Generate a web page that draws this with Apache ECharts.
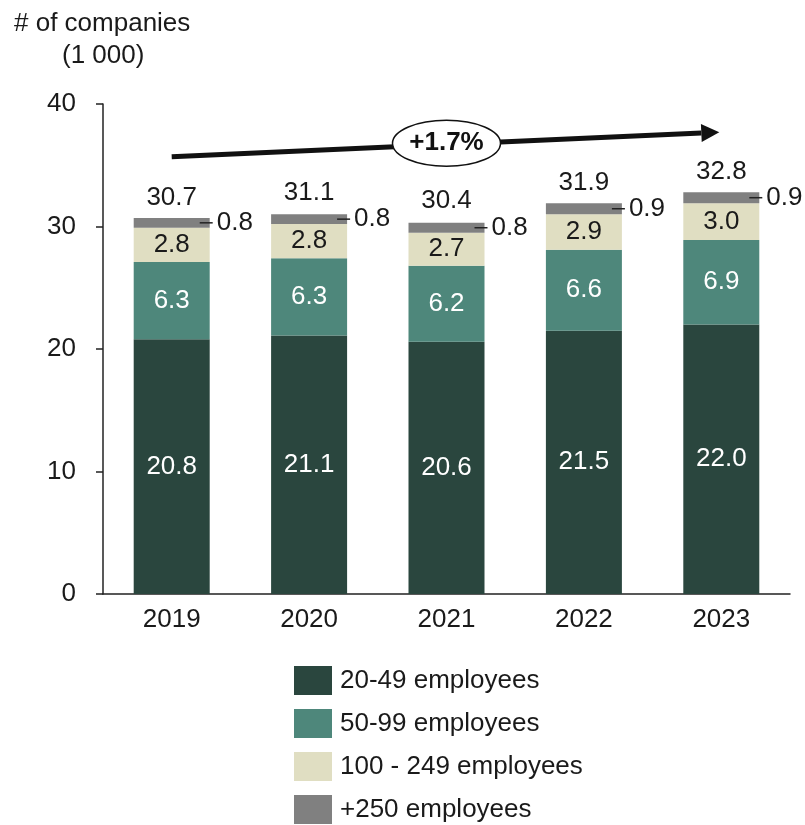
<!doctype html>
<html lang="en">
<head>
	<meta charset="utf-8">
	<title>Companies by size</title>
	<script src="https://cdn.jsdelivr.net/npm/echarts@6/dist/echarts.min.js"></script>
	<style>
		body { margin: 0; background: #fff; }
		#canvas1 { width: 805px; height: 825px; }
	</style>
</head>
<body>
	<div id="canvas1"></div>
	<script>
		// data (thousands of companies)
		var years = ['2019', '2020', '2021', '2022', '2023'];
		var emp_20_49 = [20.8, 21.1, 20.6, 21.5, 22.0];
		var emp_50_99 = [6.3, 6.3, 6.2, 6.6, 6.9];
		var emp_100_249 = [2.8, 2.8, 2.7, 2.9, 3.0];
		var emp_250 = [0.8, 0.8, 0.8, 0.9, 0.9];
		var totals = [30.7, 31.1, 30.4, 31.9, 32.8];
		var seriesNames = ['20-49 employees', '50-99 employees', '100 - 249 employees', '+250 employees'];
		var colors = ['#2a463e', '#4e877b', '#e0dec2', '#808080'];
		var growthText = '+1.7%';

		var font = 'Liberation Sans, Arial, sans-serif';
		var dark = '#1a1a1a';
		var fs = 26;

		function insideLabel(color) {
			return {
				show: true,
				position: 'inside',
				color: color,
				fontSize: fs,
				fontFamily: font,
				formatter: function (p) { return p.value.toFixed(1); }
			};
		}

		function barSeries(name, data, color, label) {
			return {
				name: name,
				type: 'bar',
				stack: 'total',
				data: data,
				barWidth: 76,
				itemStyle: { color: color },
				label: label
			};
		}

		var option = {
			animation: false,
			color: colors,
			grid: { left: 103, right: 15, top: 104, bottom: 231, containLabel: false },
			legend: {
				data: seriesNames,
				orient: 'vertical',
				left: 294,
				top: 666,
				height: 170,
				padding: 0,
				itemWidth: 38,
				itemHeight: 29,
				itemGap: 14,
				icon: 'rect',
				textStyle: { fontSize: fs, fontFamily: font, color: dark, lineHeight: 22, padding: [6, 0, 0, 3] }
			},
			xAxis: {
				type: 'category',
				data: years,
				axisLine: { lineStyle: { color: '#222', width: 1.5 } },
				axisTick: { show: false },
				axisLabel: { fontSize: fs, fontFamily: font, color: dark, margin: 13 }
			},
			yAxis: {
				type: 'value',
				min: 0,
				max: 40,
				interval: 10,
				splitLine: { show: false },
				axisLine: { show: true, lineStyle: { color: '#222', width: 1.5 } },
				axisTick: { show: true, length: 7, lineStyle: { color: '#222', width: 1.5 } },
				axisLabel: { fontSize: fs, fontFamily: font, color: dark, margin: 27 }
			},
			series: [
				barSeries(seriesNames[0], emp_20_49, colors[0], insideLabel('#ffffff')),
				barSeries(seriesNames[1], emp_50_99, colors[1], insideLabel('#ffffff')),
				barSeries(seriesNames[2], emp_100_249, colors[2], insideLabel(dark)),
				barSeries(seriesNames[3], emp_250, colors[3], {
					show: true,
					position: 'right',
					distance: -10,
					formatter: function (p) { return '{d|}{v|' + p.value.toFixed(1) + '}'; },
					rich: {
						d: { width: 13, height: 1.5, backgroundColor: '#222' },
						v: { fontSize: fs, fontFamily: font, color: dark, padding: [0, 0, 0, 4] }
					}
				}),
				{
					name: 'total',
					type: 'line',
					data: totals,
					symbol: 'circle',
					symbolSize: 1,
					itemStyle: { color: 'rgba(0,0,0,0)' },
					lineStyle: { width: 0, opacity: 0 },
					silent: true,
					label: {
						show: true,
						position: 'top',
						distance: 7,
						fontSize: fs,
						fontFamily: font,
						color: dark,
						formatter: function (p) { return p.value.toFixed(1); }
					}
				}
			]
		};

		var echartsObj = echarts.init(document.getElementById('canvas1'));
		echartsObj.setOption(option);

		// growth arrow + ellipse, placed via the chart's own scales
		var p0 = echartsObj.convertToPixel({ gridIndex: 0 }, [years[0], 35.7]);
		var p1 = echartsObj.convertToPixel({ gridIndex: 0 }, [years[4], 37.7]);
		p1[0] -= 2;
		var pc = echartsObj.convertToPixel({ gridIndex: 0 }, [years[2], 36.8]);
		var ang = Math.atan2(p1[1] - p0[1], p1[0] - p0[0]);
		var headLen = 18, headHalf = 9;
		var bx = p1[0] - headLen * Math.cos(ang), by = p1[1] - headLen * Math.sin(ang);
		var nx = -Math.sin(ang), ny = Math.cos(ang);

		echartsObj.setOption({
			graphic: [
				{ type: 'text', left: 14, top: 11, style: { text: '# of companies', fontSize: fs, fontFamily: font, fill: dark } },
				{ type: 'text', left: 62, top: 43, style: { text: '(1 000)', fontSize: fs, fontFamily: font, fill: dark } },
				{
					type: 'line', z: 10,
					shape: { x1: p0[0], y1: p0[1], x2: bx, y2: by },
					style: { stroke: '#111', lineWidth: 5 }
				},
				{
					type: 'polygon', z: 10,
					shape: { points: [[p1[0], p1[1]], [bx + nx * headHalf, by + ny * headHalf], [bx - nx * headHalf, by - ny * headHalf]] },
					style: { fill: '#111' }
				},
				{
					type: 'ellipse', z: 11,
					shape: { cx: pc[0], cy: pc[1], rx: 54, ry: 23 },
					style: { fill: '#fff', stroke: '#111', lineWidth: 1.5 }
				},
				{
					type: 'text', z: 12,
					x: pc[0], y: pc[1],
					style: { text: growthText, fontSize: fs, fontWeight: 'bold', fontFamily: font, fill: '#111', align: 'center', verticalAlign: 'middle' }
				}
			]
		});
	</script>
</body>
</html>
